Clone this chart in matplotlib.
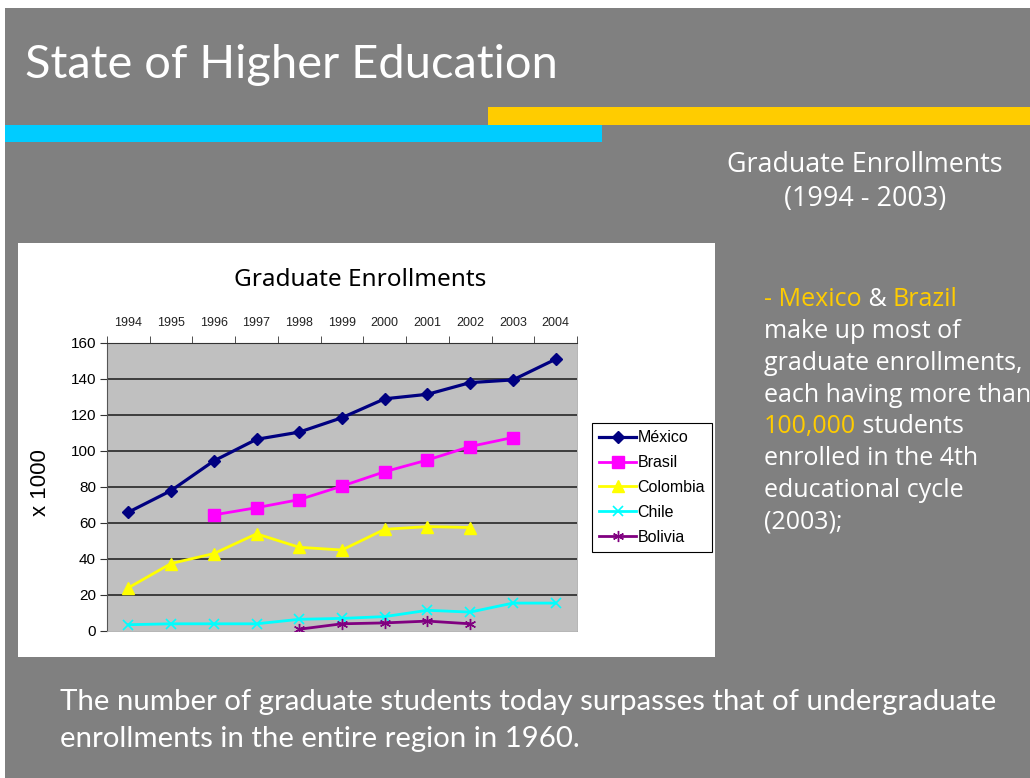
import numpy as np
import matplotlib
matplotlib.use("Agg")
import matplotlib.pyplot as plt
from matplotlib.patches import Rectangle

W, H = 1030, 778

years = ["1994", "1995", "1996", "1997", "1998", "1999", "2000", "2001", "2002", "2003", "2004"]
mexico = [66, 78, 94.5, 106.5, 110.5, 118.5, 129, 131.5, 138, 139.5, 151]
brasil = [None, None, 64.5, 68.5, 73, 80.5, 88.5, 95, 102.5, 107.5, None]
colombia = [24, 37.5, 43, 54, 46.5, 45, 56.5, 58, 57.5, None, None]
chile = [3.5, 4, 4, 4, 6.5, 7, 8, 11.5, 10.5, 15.5, 15.5]
bolivia = [None, None, None, None, 1, 4, 4.5, 5.5, 4, None, None]
yticks = [0, 20, 40, 60, 80, 100, 120, 140, 160]

title_font = ["Lato", "DejaVu Sans"]
side_font = ["Open Sans", "DejaVu Sans"]
chart_font = ["Liberation Sans", "DejaVu Sans"]
gold = "#FFCC00"


def fx(x):
    return x / W


def fy(y):
    return 1 - y / H


fig = plt.figure(figsize=(W / 100, H / 100), dpi=100)
fig.patch.set_facecolor("white")

# slide background and the two colour bars
fig.add_artist(Rectangle((fx(5), 0), 1 - fx(5), fy(8), transform=fig.transFigure,
                         facecolor="#808080", edgecolor="none", zorder=-3))
fig.add_artist(Rectangle((fx(488), fy(125)), 1 - fx(488), (125 - 107) / H, transform=fig.transFigure,
                         facecolor="#FFCC00", edgecolor="none", zorder=-2))
fig.add_artist(Rectangle((fx(5), fy(142)), fx(602 - 5), (142 - 125) / H, transform=fig.transFigure,
                         facecolor="#00CCFF", edgecolor="none", zorder=-2))
# white chart box
fig.add_artist(Rectangle((fx(18), fy(657)), fx(715 - 18), (657 - 243) / H, transform=fig.transFigure,
                         facecolor="white", edgecolor="none", zorder=-1))

fig.text(fx(25), fy(65), "State of Higher Education", color="white", fontsize=33.8,
         family=title_font, va="center", ha="left")

fig.text(fx(865), fy(165), "Graduate Enrollments", color="white", fontsize=19.4,
         family=side_font, va="center", ha="center")
fig.text(fx(865), fy(199), "(1994 - 2003)", color="white", fontsize=19.4,
         family=side_font, va="center", ha="center")

fig.text(fx(60), fy(702), "The number of graduate students today surpasses that of undergraduate",
         color="white", fontsize=21.2, family=title_font, va="center", ha="left")
fig.text(fx(60), fy(739), "enrollments in the entire region in 1960.",
         color="white", fontsize=21.2, family=title_font, va="center", ha="left")

# bullet text with coloured runs
bullet = [
    [("- Mexico", gold), (" & ", "white"), ("Brazil", gold)],
    [("make up most of", "white")],
    [("graduate enrollments,", "white")],
    [("each having more than", "white")],
    [("100,000", gold), (" students", "white")],
    [("enrolled in the 4th", "white")],
    [("educational cycle", "white")],
    [("(2003);", "white")],
]
renderer = fig.canvas.get_renderer()
for i, line in enumerate(bullet):
    x = fx(764)
    y = fy(300 + i * 31.7)
    for txt, col in line:
        t = fig.text(x, y, txt, color=col, fontsize=18, family=side_font, va="center", ha="left")
        x += t.get_window_extent(renderer).width / W

# chart
ax = fig.add_axes([fx(107), fy(631), fx(470), 288 / H])
ax.set_facecolor("#C0C0C0")
xs = np.arange(len(years))


def series(vals):
    return np.array([np.nan if v is None else v for v in vals], dtype=float)


ax.plot(xs, series(mexico), color="#000080", lw=2.3, marker="D", ms=6.5, label="México", zorder=5)
ax.plot(xs, series(brasil), color="#FF00FF", lw=2, marker="s", ms=8, label="Brasil", zorder=4)
ax.plot(xs, series(colombia), color="#FFFF00", lw=2, marker="^", ms=9, label="Colombia", zorder=4)
ax.plot(xs, series(chile), color="#00FFFF", lw=2, marker="x", ms=7, mew=1.2, label="Chile", zorder=4)
ax.plot(xs, series(bolivia), color="#800080", lw=2, marker=(6, 2, 0), ms=8, mew=1, label="Bolivia", zorder=4)

ax.set_xlim(-0.5, len(years) - 0.5)
ax.set_ylim(0, 160)
ax.set_yticks(yticks)
ax.set_yticklabels([str(v) for v in yticks], family=chart_font, fontsize=11)
for v in yticks[1:-1]:
    ax.axhline(v, color="#1a1a1a", lw=1.1, zorder=1)

ax.xaxis.tick_top()
ax.set_xticks(xs)
ax.set_xticklabels(years, family=chart_font, fontsize=9, color="#222222")
ax.set_xticks(np.arange(-0.5, len(years)), minor=True)
ax.tick_params(axis="x", which="major", length=0, pad=10)
ax.tick_params(axis="x", which="minor", length=5, direction="out", color="#333333")
ax.tick_params(axis="y", length=5, direction="out", color="#333333", pad=3)
ax.spines["top"].set_color("#333333")
ax.spines["left"].set_color("#555555")
ax.spines["bottom"].set_color("#aaaaaa")
ax.spines["right"].set_color("#aaaaaa")
ax.spines["bottom"].set_linewidth(0.6)
ax.spines["right"].set_linewidth(0.6)

fig.text(fx(360), fy(280), "Graduate Enrollments", family=["Noto Sans", "DejaVu Sans"], fontsize=17.5,
         ha="center", va="center", color="black")
fig.text(fx(40), fy(483), "x 1000", family=chart_font, fontsize=16, rotation=90,
         ha="center", va="center", color="black")

leg = ax.legend(loc="upper left", bbox_to_anchor=(fx(592), fy(423)), bbox_transform=fig.transFigure,
                borderaxespad=0, fancybox=False, framealpha=1, edgecolor="black",
                prop={"family": chart_font, "size": 11.5}, handlelength=2.3, handletextpad=0.1,
                labelspacing=0.62, borderpad=0.45)
leg.get_frame().set_linewidth(0.8)

fig.savefig("out.png", dpi=100)
